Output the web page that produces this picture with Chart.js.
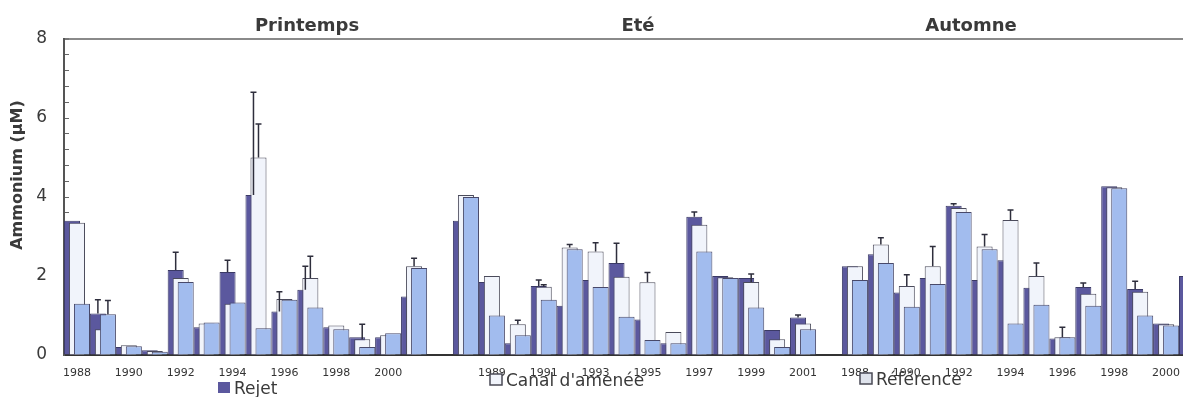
<!DOCTYPE html>
<html lang="fr">
<head>
    <meta charset="UTF-8" />
    <title>Ammonium - Printemps, Eté, Automne</title>
    <script src="https://cdn.jsdelivr.net/npm/chart.js"></script>
    <style>
        body {
            margin: 0;
            background: #fff;
            overflow: hidden;
        }

        .wrap {
            width: 1210px;
            height: 397px;
        }
    </style>
</head>
<body>

<div class="wrap">
    <canvas id="ammoniumChart" width="1210" height="397"></canvas>
</div>

<script>
    // années de chaque saison (1988 - 2001)
    const annees = ['1988', '1989', '1990', '1991', '1992', '1993', '1994',
                    '1995', '1996', '1997', '1998', '1999', '2000', '2001'];
    const saisons = ['Printemps', 'Eté', 'Automne'];

    // Rejet
    const rejetPrintemps = [3.40, 1.05, 0.20, 0.12, 2.15, 0.70, 2.10, 4.05, 1.10, 1.65, 0.70, 0.45, 0.45, 1.48];
    const rejetEte       = [3.40, 1.85, 0.30, 1.75, 1.25, 1.90, 2.33, 0.90, 0.30, 3.50, 2.00, 1.95, 0.63, 0.95];
    const rejetAutomne   = [2.25, 2.55, 1.58, 1.95, 3.78, 1.90, 2.40, 1.70, 0.42, 1.72, 4.27, 1.67, 0.80, 2.00];

    // Canal d'amenée
    const canalPrintemps = [3.35, 0.65, 0.25, 0.10, 1.95, 0.80, 1.30, 5.00, 1.42, 1.95, 0.75, 0.40, 0.50, 2.25];
    const canalEte       = [4.05, 2.00, 0.78, 1.73, 2.72, 2.62, 1.98, 1.84, 0.58, 3.30, 1.97, 1.85, 0.40, 0.80];
    const canalAutomne   = [2.25, 2.80, 1.75, 2.25, 3.72, 2.75, 3.42, 2.00, 0.45, 1.55, 4.25, 1.60, 0.78, 1.90];

    // Référence
    const refPrintemps = [1.30, 1.03, 0.22, 0.08, 1.85, 0.82, 1.33, 0.68, 1.40, 1.20, 0.65, 0.20, 0.55, 2.20];
    const refEte       = [4.00, 1.00, 0.50, 1.40, 2.68, 1.72, 0.97, 0.38, 0.30, 2.62, 1.95, 1.20, 0.20, 0.65];
    const refAutomne   = [1.90, 2.33, 1.22, 1.80, 3.62, 2.68, 0.80, 1.27, 0.45, 1.25, 4.22, 1.00, 0.75, 1.50];

    // écarts-types (barres d'erreur, vers le haut)
    const rejetErrPrintemps = [0, 0.35, 0, 0, 0.45, 0, 0.30, 2.60, 0.50, 0.60, 0, 0, 0, 0];
    const rejetErrEte       = [0, 0, 0, 0.15, 0, 0, 0.50, 0, 0, 0.12, 0, 0, 0, 0.06];
    const rejetErrAutomne   = [0, 0, 0, 0, 0.05, 0, 0, 0, 0, 0.10, 0, 0.20, 0, 0.35];
    const canalErrPrintemps = [0, 0, 0, 0, 0, 0, 0, 0.85, 0, 0.55, 0, 0.38, 0, 0.20];
    const canalErrEte       = [0, 0, 0.10, 0.05, 0.08, 0.22, 0, 0.25, 0, 0, 0, 0.20, 0, 0];
    const canalErrAutomne   = [0, 0.17, 0.28, 0.50, 0, 0.30, 0.25, 0.33, 0.25, 0, 0, 0, 0, 0];
    const refErrPrintemps   = [0, 0.35, 0, 0, 0, 0, 0, 0, 0, 0, 0, 0, 0, 0];
    const refErrEte         = [0, 0, 0, 0, 0, 0, 0, 0, 0, 0, 0, 0, 0, 0];
    const refErrAutomne     = [0, 0, 0, 0, 0, 0, 0, 0, 0, 0, 0, 0, 0, 0];

    // une catégorie vide entre deux saisons
    const joindre = (a, b, c) => [...a, null, ...b, null, ...c];
    const categories = [...annees, '', ...annees, '', ...annees];

    const erreurs = [
        joindre(rejetErrPrintemps, rejetErrEte, rejetErrAutomne),
        joindre(canalErrPrintemps, canalErrEte, canalErrAutomne),
        joindre(refErrPrintemps, refErrEte, refErrAutomne)
    ];

    // barres superposées : Rejet derrière, Référence devant, puis barres d'erreur
    const superposition = {
        id: 'superposition',
        beforeDatasetsDraw(chart) {
            const { ctx, chartArea: a } = chart;
            const y = chart.scales.y;
            ctx.save();
            ctx.beginPath();
            ctx.rect(a.left, 0, a.right - a.left, a.bottom);
            ctx.clip();
            chart.data.datasets.forEach((ds, i) => chart.getDatasetMeta(i).controller.draw());

            ctx.strokeStyle = '#2e2e3c';
            ctx.lineWidth = 1.5;
            chart.data.datasets.forEach((ds, i) => {
                chart.getDatasetMeta(i).data.forEach((bar, j) => {
                    const e = erreurs[i][j];
                    if (!e || ds.data[j] == null) return;
                    const yTop = y.getPixelForValue(ds.data[j] + e);
                    ctx.beginPath();
                    ctx.moveTo(bar.x, bar.y);
                    ctx.lineTo(bar.x, yTop);
                    ctx.moveTo(bar.x - 3, yTop);
                    ctx.lineTo(bar.x + 3, yTop);
                    ctx.stroke();
                });
            });
            ctx.restore();
            return false;
        }
    };

    // titres des saisons, titre de l'axe y et légende
    const textes = {
        id: 'textes',
        afterDraw(chart) {
            const ctx = chart.ctx;
            ctx.save();
            ctx.fillStyle = '#3a3a3a';
            ctx.font = 'bold 18px "DejaVu Sans"';
            ctx.textAlign = 'center';
            ctx.textBaseline = 'alphabetic';
            [307, 638, 971].forEach((x, i) => ctx.fillText(saisons[i], x, 31));

            ctx.save();
            ctx.translate(18, 175);
            ctx.rotate(-Math.PI / 2);
            ctx.font = 'bold 16px "DejaVu Sans"';
            ctx.textBaseline = 'middle';
            ctx.fillText('Ammonium (µM)', 0, 0);
            ctx.restore();

            const places = [{ x: 218, y: 382 }, { x: 490, y: 374 }, { x: 860, y: 373 }];
            ctx.font = '17px "DejaVu Sans"';
            ctx.textAlign = 'left';
            chart.data.datasets.forEach((ds, i) => {
                const p = places[i];
                ctx.fillStyle = i === 2 ? '#dfe3ec' : ds.backgroundColor;
                ctx.fillRect(p.x, p.y, 12, 11);
                if (i > 0) {
                    ctx.strokeStyle = '#4a4a55';
                    ctx.lineWidth = 1.5;
                    ctx.strokeRect(p.x, p.y, 12, 11);
                }
                ctx.fillStyle = '#3a3a3a';
                ctx.fillText(ds.label, p.x + 16, p.y + 12);
            });
            ctx.restore();
        }
    };

    const ctx = document.getElementById('ammoniumChart').getContext('2d');
    new Chart(ctx, {
        type: 'bar',
        data: {
            labels: categories,
            datasets: [
                {
                    label: 'Rejet',
                    data: joindre(rejetPrintemps, rejetEte, rejetAutomne),
                    backgroundColor: '#5b589e',
                    borderColor: '#3b3a66',
                    borderWidth: 1
                },
                {
                    label: "Canal d'amenée",
                    data: joindre(canalPrintemps, canalEte, canalAutomne),
                    backgroundColor: '#f1f4fb',
                    borderColor: '#4b4b5b',
                    borderWidth: 1
                },
                {
                    label: 'Référence',
                    data: joindre(refPrintemps, refEte, refAutomne),
                    backgroundColor: '#a2bcee',
                    borderColor: '#48496a',
                    borderWidth: 1
                }
            ]
        },
        options: {
            responsive: false,
            animation: false,
            layout: {
                padding: { top: 39, right: 5, bottom: 0, left: 0 }
            },
            datasets: {
                bar: {
                    categoryPercentage: 0.58,
                    barPercentage: 3.2
                }
            },
            plugins: {
                legend: { display: false },
                tooltip: { enabled: false }
            },
            scales: {
                x: {
                    afterFit(scale) { scale.height = 42; },
                    grid: { display: true, drawOnChartArea: false, drawTicks: false },
                    border: { display: true, color: '#333', width: 2 },
                    ticks: {
                        autoSkip: false,
                        maxRotation: 0,
                        padding: 12,
                        color: '#333',
                        font: { family: 'DejaVu Sans', size: 11 },
                        callback: (v, i) => (i % 2 === 0 ? categories[i] : '')
                    }
                },
                y: {
                    min: 0,
                    max: 8,
                    afterFit(scale) { scale.width = 64; },
                    grid: {
                        drawOnChartArea: true,
                        tickLength: -5,
                        tickColor: '#666',
                        tickWidth: 1,
                        color: (c) => (c.tick && c.tick.value === 8 ? '#8a8a8a' : 'rgba(0,0,0,0)'),
                        lineWidth: (c) => (c.tick && c.tick.value === 8 ? 2 : 1)
                    },
                    border: { display: true, color: '#555', width: 2 },
                    ticks: {
                        autoSkip: false,
                        stepSize: 0.4,
                        padding: 22,
                        color: '#3a3a3a',
                        font: { family: 'DejaVu Sans', size: 17 },
                        callback: (v) => {
                            const r = Math.round(v * 10) / 10;
                            return r % 2 === 0 ? r : '';
                        }
                    }
                }
            }
        },
        plugins: [superposition, textes]
    });
</script>

</body>
</html>
